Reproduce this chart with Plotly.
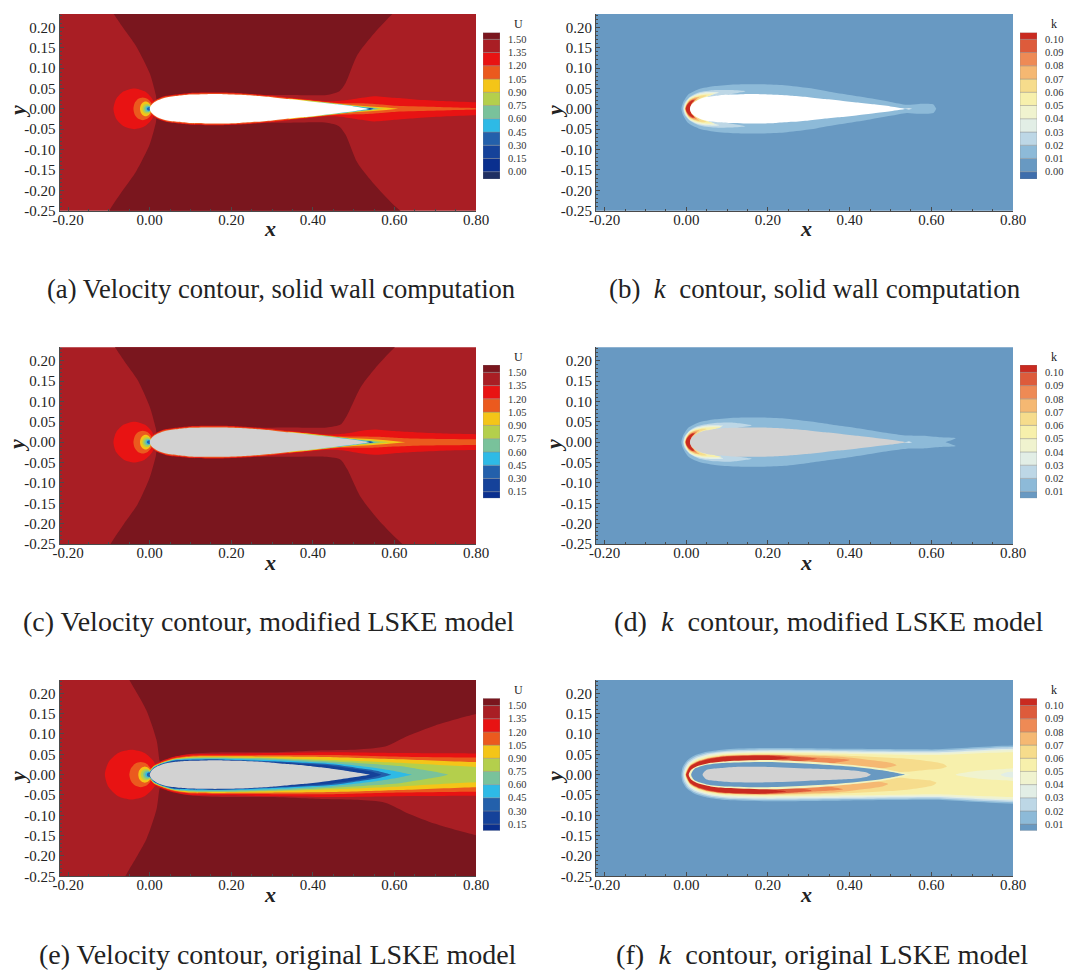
import plotly.graph_objects as go

W, H = 1068, 974
FONT = "Liberation Serif"

# ---------- axis labels ----------
X_TICKS = [-0.2, 0.0, 0.2, 0.4, 0.6, 0.8]
X_LABELS = ["-0.20", "0.00", "0.20", "0.40", "0.60", "0.80"]
Y_TICKS = [0.20, 0.15, 0.10, 0.05, 0.0, -0.05, -0.10, -0.15, -0.20, -0.25]
Y_LABELS = ["0.20", "0.15", "0.10", "0.05", "0.00", "-0.05", "-0.10", "-0.15", "-0.20", "-0.25"]
CAPTIONS = ["(a) Velocity contour, solid wall computation", "(b)  <i>k</i>  contour, solid wall computation",
            "(c) Velocity contour, modified LSKE model", "(d)  <i>k</i>  contour, modified LSKE model",
            "(e) Velocity contour, original LSKE model", "(f)  <i>k</i>  contour, original LSKE model"]

# ---------- level colours, lowest band first ----------
U_COLORS = ["#1F2F62", "#0A2F8E", "#15429A", "#2360AB", "#2EBAE6", "#79C29B", "#B4CF4C",
            "#F4C518", "#EB5A1E", "#E81313", "#A91E24", "#7A161E"]
K_COLORS = ["#3F6EAC", "#6899C2", "#8DBAD8", "#BDD7E6", "#E2EEE6", "#F0F3CF", "#F7F0AC",
            "#F6DC8C", "#F5B872", "#EE8A55", "#DD5B3B", "#C92A20"]
GREY = "#D2D2D2"

# ---------- colour bar levels ----------
U_LEVELS_A = [-0.083, 0.0, 0.15, 0.30, 0.45, 0.60, 0.75, 0.90, 1.05, 1.20, 1.35, 1.50, 1.577]
U_LEVELS_C = [0.075, 0.15, 0.30, 0.45, 0.60, 0.75, 0.90, 1.05, 1.20, 1.35, 1.50, 1.583]
K_LEVELS_A = [-0.0055, 0.0, 0.01, 0.02, 0.03, 0.04, 0.05, 0.06, 0.07, 0.08, 0.09, 0.10, 0.1051]
K_LEVELS_C = [0.005, 0.01, 0.02, 0.03, 0.04, 0.05, 0.06, 0.07, 0.08, 0.09, 0.10, 0.1055]
U_TICKS_A = [0.0, 0.15, 0.30, 0.45, 0.60, 0.75, 0.90, 1.05, 1.20, 1.35, 1.50]
U_TICKS_C = U_TICKS_A[1:]
K_TICKS_A = [0.0, 0.01, 0.02, 0.03, 0.04, 0.05, 0.06, 0.07, 0.08, 0.09, 0.10]
K_TICKS_C = K_TICKS_A[1:]

# ---------- body outline, upper side ----------
AF_X = [0, 0.003, 0.01, 0.02, 0.04, 0.07, 0.10, 0.14, 0.18, 0.22, 0.26, 0.30, 0.34, 0.38, 0.42, 0.46, 0.50, 0.54]
AF_Y = [0, 0.008, 0.015, 0.021, 0.028, 0.032, 0.035, 0.036, 0.036, 0.0345, 0.032, 0.0285, 0.024, 0.020, 0.0155, 0.011, 0.006, 0]
AF_E_Y = [0, 0.008, 0.015, 0.021, 0.028, 0.032, 0.034, 0.035, 0.035, 0.034, 0.032, 0.0295, 0.026, 0.0225, 0.018, 0.0125, 0.0065, 0]
AF_K_X = [0.009, 0.010, 0.014, 0.022, 0.035, 0.05, 0.08, 0.11, 0.14, 0.18, 0.22, 0.26, 0.30, 0.34, 0.38, 0.42, 0.46, 0.50, 0.54]
AF_K_Y = [0, 0.006, 0.012, 0.018, 0.025, 0.029, 0.033, 0.035, 0.036, 0.036, 0.0345, 0.032, 0.0285, 0.024, 0.020, 0.0155, 0.011, 0.006, 0]

# ---------- U = 1.50 contours, upper side ----------
DARK_A_X = [-0.12, -0.099, -0.066, -0.033, 0.0, 0.015, 0.018, 0.05, 0.10, 0.25, 0.34, 0.434, 0.464, 0.480, 0.509, 0.551, 0.595, 0.62, 0.66, -0.12]
DARK_A_Y = [0.30, 0.25, 0.2, 0.153, 0.087, 0.034, 0.02, 0.03, 0.03, 0.034, 0.034, 0.034, 0.0425, 0.063, 0.132, 0.186, 0.233, 0.255, 0.30, 0.30]
DARK_C_X = [-0.12, -0.096, -0.063, -0.03, 0.0, 0.015, 0.018, 0.05, 0.10, 0.25, 0.34, 0.434, 0.468, 0.484, 0.518, 0.56, 0.601, 0.625, 0.67, -0.12]
DARK_C_Y = [0.30, 0.25, 0.2, 0.153, 0.087, 0.034, 0.02, 0.03, 0.03, 0.035, 0.036, 0.036, 0.043, 0.066, 0.136, 0.19, 0.233, 0.255, 0.30, 0.30]
DARK_E_X = [-0.09, -0.06, -0.05, -0.008, 0.017, 0.024, 0.026, 0.083, 0.175, 0.30, 0.426, 0.51, 0.577, 0.635, 0.70, 0.80, 0.92, 0.92, -0.09]
DARK_E_Y = [0.30, 0.25, 0.2327, 0.158, 0.084, 0.035, 0.031, 0.049, 0.055, 0.055, 0.06, 0.062, 0.069, 0.096, 0.121, 0.149, 0.17, 0.30, 0.30]

# ---------- rings ahead of the nose, band colours high to low ----------
RING_COLORS = ["#E81313", "#EB5A1E", "#F4C518", "#B4CF4C", "#79C29B", "#2EBAE6", "#2360AB"]
RINGS_A_X = [[-0.089, -0.082, -0.0635, -0.038, -0.0125, 0.006, 0.013],
             [-0.040, -0.037, -0.029, -0.017, -0.005, 0.004, 0.008],
             [-0.024, -0.022, -0.017, -0.010, -0.003, 0.002, 0.004],
             [-0.018, -0.0165, -0.0125, -0.007, -0.0015, 0.0025, 0.004],
             [-0.0135, -0.0125, -0.009, -0.005, -0.001, 0.002, 0.0035],
             [-0.009, -0.008, -0.006, -0.003, 0.0, 0.002, 0.003],
             [-0.0068, -0.006, -0.0045, -0.002, 0.0, 0.001, 0.002]]
RINGS_A_Y = [[0, 0.025, 0.043, 0.05, 0.043, 0.025, 0],
             [0, 0.014, 0.024, 0.028, 0.024, 0.014, 0],
             [0, 0.009, 0.0155, 0.018, 0.0155, 0.009, 0],
             [0, 0.006, 0.0105, 0.012, 0.0105, 0.006, 0],
             [0, 0.004, 0.007, 0.008, 0.007, 0.004, 0],
             [0, 0.003, 0.005, 0.006, 0.005, 0.003, 0],
             [0, 0.002, 0.0035, 0.004, 0.0035, 0.002, 0]]
RINGS_E_X = [[-0.11, -0.101, -0.0775, -0.045, -0.0125, 0.011, 0.02],
             [-0.05, -0.046, -0.036, -0.022, -0.008, 0.002, 0.006],
             [-0.028, -0.026, -0.02, -0.012, -0.004, 0.002, 0.004],
             [-0.022, -0.02, -0.0155, -0.009, -0.0025, 0.002, 0.004],
             [-0.016, -0.0147, -0.011, -0.006, -0.001, 0.0027, 0.004],
             [-0.011, -0.010, -0.0075, -0.004, -0.0005, 0.002, 0.003],
             [-0.007, -0.0063, -0.0045, -0.002, 0.0005, 0.0023, 0.003]]
RINGS_E_Y = [[0, 0.0305, 0.053, 0.061, 0.053, 0.0305, 0],
             [0, 0.0155, 0.027, 0.031, 0.027, 0.0155, 0],
             [0, 0.01, 0.017, 0.02, 0.017, 0.01, 0],
             [0, 0.007, 0.012, 0.014, 0.012, 0.007, 0],
             [0, 0.005, 0.0087, 0.01, 0.0087, 0.005, 0],
             [0, 0.0035, 0.006, 0.007, 0.006, 0.0035, 0],
             [0, 0.0025, 0.0043, 0.005, 0.0043, 0.0025, 0]]

# ---------- thin velocity layers, panels a and c: offset from body, then wake ----------
LAYER_COLORS = ["#E81313", "#EB5A1E", "#F4C518", "#B4CF4C", "#79C29B", "#2EBAE6"]
LAYER_OFFSETS = [0.004, 0.0022, 0.0015, 0.001, 0.0007, 0.0005]
LAYER_STARTS = [0.0, 0.0, 0.34, 0.38, 0.42, 0.46]
LAYER_CUTS = [0.40, 0.40, 0.40, 0.42, 0.44, 0.46]
WAKE_A_X = [[0.44, 0.48, 0.52, 0.55, 0.60, 0.65, 0.72, 0.80, 0.90, 0.90],
            [0.46, 0.52, 0.56, 0.605, 0.69, 0.75, 0.80, 0.82],
            [0.46, 0.50, 0.54, 0.58, 0.609],
            [0.50, 0.54, 0.575],
            [0.52, 0.54, 0.562],
            [0.54, 0.553]]
WAKE_A_Y = [[0.0185, 0.021, 0.027, 0.031, 0.027, 0.023, 0.019, 0.016, 0.015, 0],
            [0.0145, 0.0135, 0.011, 0.0073, 0.0049, 0.003, 0.0015, 0],
            [0.0125, 0.0085, 0.0058, 0.003, 0],
            [0.0075, 0.004, 0],
            [0.0045, 0.003, 0],
            [0.0018, 0]]
WAKE_C_X = [[0.44, 0.48, 0.52, 0.55, 0.60, 0.65, 0.72, 0.80, 0.90, 0.90],
            [0.46, 0.52, 0.56, 0.60, 0.65, 0.72, 0.80, 0.90, 0.90],
            [0.46, 0.50, 0.54, 0.58, 0.627],
            [0.50, 0.54, 0.59],
            [0.52, 0.54, 0.565],
            [0.54, 0.555]]
WAKE_C_Y = [[0.0185, 0.021, 0.028, 0.031, 0.027, 0.024, 0.021, 0.0195, 0.019, 0],
            [0.0145, 0.014, 0.013, 0.011, 0.009, 0.0078, 0.007, 0.006, 0],
            [0.0125, 0.0095, 0.0075, 0.0045, 0],
            [0.0075, 0.0045, 0],
            [0.0045, 0.003, 0],
            [0.0018, 0]]
TIP_X = [0.528, 0.54, 0.549]
TIP_Y = [0, 0.002, 0]

# ---------- velocity layers, panel e ----------
E_FRONT_X = [0.0, 0.01, 0.03, 0.06, 0.10, 0.17, 0.30, 0.45]
E_LAYER_COLORS = ["#E81313", "#EB5A1E", "#F4C518", "#B4CF4C", "#79C29B", "#2EBAE6", "#2360AB", "#15429A"]
E_LAYER_Y = [[0.012, 0.024, 0.034, 0.044, 0.050, 0.051, 0.053, 0.055, 0.053, 0.052, 0.052, 0],
             [0.010, 0.022, 0.031, 0.041, 0.0465, 0.0475, 0.048, 0.048, 0.044, 0.042, 0.042, 0],
             [0.009, 0.021, 0.030, 0.039, 0.044, 0.045, 0.0445, 0.043, 0.038, 0.031, 0.030, 0],
             [0.008, 0.020, 0.029, 0.038, 0.042, 0.043, 0.041, 0.036, 0.029, 0.019, 0.017, 0],
             [0.007, 0.019, 0.028, 0.037, 0.041, 0.0415, 0.039, 0.032, 0.021, 0.0145, 0.007, 0],
             [0.006, 0.018, 0.0275, 0.036, 0.0385, 0.039, 0.036, 0.028, 0.017, 0.0096, 0],
             [0.005, 0.017, 0.027, 0.035, 0.0365, 0.0375, 0.033, 0.025, 0.015, 0.0096, 0],
             [0.004, 0.016, 0.0255, 0.0335, 0.0355, 0.0365, 0.031, 0.0215, 0.0085, 0]]
E_LAYER_TAIL_X = [[0.613, 0.80, 0.92, 0.92],
                  [0.613, 0.80, 0.92, 0.92],
                  [0.613, 0.80, 0.92, 0.92],
                  [0.613, 0.80, 0.92, 0.92],
                  [0.613, 0.654, 0.70, 0.732],
                  [0.55, 0.597, 0.642],
                  [0.52, 0.556, 0.592],
                  [0.54, 0.568]]

# ---------- k contours, panel b, colours high to low ----------
KB_LOBE_COLORS = ["#8DBAD8", "#BDD7E6", "#E2EEE6", "#F0F3CF", "#F7F0AC", "#F6DC8C", "#F5B872", "#EE8A55", "#DD5B3B", "#C92A20"]
KB_X = [[-0.012, -0.008, 0.005, 0.03, 0.07, 0.12, 0.18, 0.24, 0.30, 0.35, 0.40, 0.45, 0.50, 0.54, 0.57, 0.605, 0.612],
        [-0.008, -0.004, 0.01, 0.03, 0.07, 0.11, 0.145, 0.10, 0.06],
        [-0.006, -0.003, 0.008, 0.025, 0.05, 0.08, 0.05],
        [-0.005, -0.002, 0.008, 0.025, 0.05, 0.07, 0.05],
        [-0.004, -0.001, 0.008, 0.025, 0.05, 0.065, 0.04],
        [-0.003, 0.0, 0.008, 0.02, 0.04, 0.05, 0.03],
        [-0.0025, 0.0, 0.007, 0.02, 0.032, 0.02],
        [-0.002, 0.0005, 0.007, 0.018, 0.026, 0.015],
        [-0.0015, 0.001, 0.007, 0.016, 0.022, 0.012],
        [-0.001, 0.0015, 0.008, 0.016, 0.019, 0.012]]
KB_Y = [[0, 0.015, 0.035, 0.048, 0.056, 0.060, 0.0605, 0.058, 0.051, 0.042, 0.034, 0.026, 0.017, 0.010, 0.012, 0.0105, 0],
        [0, 0.015, 0.030, 0.040, 0.046, 0.046, 0.043, 0.034, 0.02],
        [0, 0.012, 0.027, 0.036, 0.041, 0.040, 0.028],
        [0, 0.012, 0.026, 0.034, 0.038, 0.038, 0.027],
        [0, 0.011, 0.024, 0.032, 0.036, 0.035, 0.025],
        [0, 0.01, 0.022, 0.028, 0.033, 0.032, 0.022],
        [0, 0.009, 0.02, 0.027, 0.029, 0.018],
        [0, 0.009, 0.018, 0.024, 0.025, 0.015],
        [0, 0.008, 0.017, 0.022, 0.022, 0.013],
        [0, 0.008, 0.016, 0.021, 0.02, 0.011]]
# panel d differs in the outer lobes and the tail
KD_OUTER_X = [[-0.012, -0.008, 0.005, 0.03, 0.07, 0.12, 0.18, 0.24, 0.30, 0.35, 0.40, 0.45, 0.50, 0.54, 0.58, 0.62, 0.66, 0.635],
              [-0.008, -0.004, 0.01, 0.03, 0.07, 0.11, 0.16, 0.13, 0.08],
              [-0.006, -0.003, 0.008, 0.025, 0.05, 0.09, 0.06],
              [-0.005, -0.002, 0.008, 0.025, 0.05, 0.087, 0.05],
              [-0.004, -0.001, 0.008, 0.025, 0.05, 0.085, 0.05]]
KD_OUTER_Y = [[0, 0.015, 0.035, 0.048, 0.056, 0.060, 0.0605, 0.058, 0.051, 0.044, 0.037, 0.029, 0.021, 0.016, 0.0155, 0.012, 0.0095, 0],
              [0, 0.015, 0.030, 0.040, 0.047, 0.048, 0.041, 0.036, 0.02],
              [0, 0.012, 0.027, 0.036, 0.041, 0.040, 0.028],
              [0, 0.012, 0.026, 0.034, 0.038, 0.038, 0.027],
              [0, 0.011, 0.024, 0.032, 0.036, 0.036, 0.025]]
K_SLIVER_X = [0.535, 0.545, 0.553]
K_SLIVER_Y = [0, 0.0015, 0]

# ---------- k contours, panel f ----------
KF_BAND_COLORS = ["#8DBAD8", "#BDD7E6", "#E2EEE6", "#F0F3CF", "#F7F0AC"]
KF_BAND_X = [[-0.012, -0.009, 0.002, 0.02, 0.05, 0.10, 0.20, 0.40, 0.60, 0.90, 0.90],
             [-0.009, -0.006, 0.004, 0.022, 0.052, 0.10, 0.20, 0.40, 0.60, 0.90, 0.90],
             [-0.006, -0.003, 0.006, 0.024, 0.054, 0.10, 0.20, 0.40, 0.60, 0.90, 0.90],
             [-0.004, -0.001, 0.008, 0.026, 0.056, 0.10, 0.20, 0.40, 0.60, 0.90, 0.90],
             [-0.003, 0.0, 0.009, 0.028, 0.058, 0.10, 0.20, 0.40, 0.60, 0.90, 0.90]]
KF_BAND_Y = [[0, 0.018, 0.035, 0.047, 0.056, 0.0625, 0.0655, 0.0635, 0.062, 0.062, 0],
             [0, 0.016, 0.032, 0.044, 0.053, 0.059, 0.062, 0.060, 0.0585, 0.0585, 0],
             [0, 0.014, 0.029, 0.041, 0.05, 0.056, 0.059, 0.057, 0.055, 0.055, 0],
             [0, 0.012, 0.027, 0.039, 0.048, 0.053, 0.056, 0.054, 0.052, 0.052, 0],
             [0, 0.011, 0.025, 0.037, 0.045, 0.0505, 0.053, 0.051, 0.048, 0.0457, 0]]
KF_LENS_X = [0.66, 0.72, 0.78, 0.90, 0.90]
KF_LENS_Y = [0, 0.010, 0.014, 0.018, 0]
KF_SPOT_X = [0.77, 0.785, 0.80, 0.815]
KF_SPOT_Y = [0, 0.006, 0.007, 0]
KF_LOBE_COLORS = ["#F6DC8C", "#F5B872", "#EE8A55", "#DD5B3B", "#C92A20"]
KF_LOBE_X = [[-0.002, 0.001, 0.01, 0.03, 0.06, 0.10, 0.20, 0.377, 0.54, 0.60, 0.63, 0.638, 0.625, 0.58, 0.54, 0.30],
             [-0.0015, 0.0015, 0.01, 0.03, 0.06, 0.10, 0.20, 0.377, 0.45, 0.50, 0.515, 0.49, 0.46, 0.30],
             [-0.001, 0.002, 0.01, 0.03, 0.06, 0.10, 0.20, 0.32, 0.40, 0.33, 0.2],
             [-0.0008, 0.0025, 0.01, 0.03, 0.06, 0.10, 0.20, 0.27, 0.32, 0.26, 0.2],
             [-0.0005, 0.003, 0.01, 0.03, 0.06, 0.10, 0.20, 0.255, 0.20, 0.15]]
KF_LOBE_Y = [[0, 0.01, 0.024, 0.035, 0.043, 0.048, 0.05, 0.047, 0.039, 0.032, 0.026, 0.02, 0.015, 0.011, 0.007, 0.006],
             [0, 0.0095, 0.023, 0.034, 0.042, 0.047, 0.049, 0.044, 0.036, 0.029, 0.023, 0.017, 0.014, 0.006],
             [0, 0.009, 0.022, 0.033, 0.041, 0.046, 0.048, 0.042, 0.036, 0.024, 0.01],
             [0, 0.0085, 0.021, 0.032, 0.04, 0.045, 0.0475, 0.044, 0.039, 0.03, 0.01],
             [0, 0.008, 0.02, 0.031, 0.039, 0.0445, 0.0465, 0.041, 0.034, 0.01]]
KF_PALE_X = [0.006, 0.008, 0.012, 0.025, 0.06, 0.10, 0.20, 0.30, 0.40, 0.48, 0.55]
KF_PALE_Y = [0, 0.006, 0.012, 0.02, 0.029, 0.033, 0.036, 0.032, 0.024, 0.015, 0]
KF_BLUE_X = [0.012, 0.014, 0.02, 0.05, 0.10, 0.20, 0.30, 0.40, 0.48, 0.535]
KF_BLUE_Y = [0, 0.006, 0.014, 0.024, 0.029, 0.031, 0.027, 0.020, 0.0105, 0]
KF_GREY_X = [0.04, 0.05, 0.08, 0.12, 0.20, 0.30, 0.40, 0.44, 0.452]
KF_GREY_Y = [0, 0.012, 0.016, 0.019, 0.019, 0.015, 0.011, 0.006, 0]

BASE_X = [-0.4, 1.1, 1.1, -0.4]
BASE_Y = [-0.4, -0.4, 0.4, 0.4]

# ---------- layout in pixels ----------
PLOT_X = [(59.6, 476), (596, 1013)]
PLOT_Y = [(14, 210.7), (347.3, 544), (680, 876.3)]
BAR_X = [(483, 500), (1020, 1037)]
BAR_Y = [(32.5, 179), (365, 498.3), (698.3, 830.7)]
X_RANGE = [-0.221, 0.80]
Y_RANGE = [-0.25, 0.2327]

fig = go.Figure()
layout = dict(width=W, height=H, margin=dict(l=0, r=0, t=0, b=0, autoexpand=False), showlegend=False,
              paper_bgcolor="white", plot_bgcolor="white", barmode="overlay",
              font=dict(family=FONT, color="#222"), annotations=[], hovermode=False)


def add_poly(i, xs, ys, color, shape="spline"):
    fig.add_trace(go.Scatter(x=xs, y=ys, mode="lines", fill="toself", fillcolor=color,
                             line=dict(width=0, color=color, shape=shape, smoothing=0.7, simplify=False),
                             hoverinfo="skip", xaxis=f"x{i}", yaxis=f"y{i}"))


def add_sym(i, xs, ys, color, lower_scale=1.0, shape="spline"):
    """Upper contour plus its reflection below the axis."""
    add_poly(i, list(xs) + [x * lower_scale for x in reversed(xs)],
             list(ys) + [-y for y in reversed(ys)], color, shape)


def add_dark(i, xs, ys, color):
    add_poly(i, xs, ys, color)
    add_poly(i, xs, [-y for y in ys], color)


def body_layer(offset, start, cut, wx, wy):
    body = [(x, y + offset) for x, y in zip(AF_X[1:], AF_Y[1:]) if start <= x <= cut]
    head = [(-offset, 0.0)] if start == 0 else []
    pts = head + body
    return [p[0] for p in pts] + wx, [p[1] for p in pts] + wy


def velocity_thin(i, dark_x, dark_y, wake_x, wake_y, body_color):
    add_poly(i, BASE_X, BASE_Y, U_COLORS[10], "linear")
    add_dark(i, dark_x, dark_y, U_COLORS[11])
    add_sym(i, RINGS_A_X[0], RINGS_A_Y[0], RING_COLORS[0])
    for n in range(6):
        xs, ys = body_layer(LAYER_OFFSETS[n], LAYER_STARTS[n], LAYER_CUTS[n], wake_x[n], wake_y[n])
        if n > 0:
            add_sym(i, RINGS_A_X[n], RINGS_A_Y[n], RING_COLORS[n])
        add_sym(i, xs, ys, LAYER_COLORS[n], shape="spline" if n < 2 else "linear")
    add_sym(i, RINGS_A_X[6], RINGS_A_Y[6], RING_COLORS[6])
    add_sym(i, TIP_X, TIP_Y, U_COLORS[2], shape="linear")
    add_sym(i, AF_X, AF_Y, body_color)


# panel a (1) and panel c (3)
velocity_thin(1, DARK_A_X, DARK_A_Y, WAKE_A_X, WAKE_A_Y, "#FFFFFF")
velocity_thin(3, DARK_C_X, DARK_C_Y, WAKE_C_X, WAKE_C_Y, GREY)

# panel e (5)
add_poly(5, BASE_X, BASE_Y, U_COLORS[10], "linear")
add_dark(5, DARK_E_X, DARK_E_Y, U_COLORS[11])
add_sym(5, RINGS_E_X[0], RINGS_E_Y[0], RING_COLORS[0])
for n, color in enumerate(E_LAYER_COLORS):
    if 0 < n < 7:
        add_sym(5, RINGS_E_X[n], RINGS_E_Y[n], RING_COLORS[n])
    add_sym(5, E_FRONT_X + E_LAYER_TAIL_X[n], E_LAYER_Y[n], color)
add_sym(5, AF_X, AF_E_Y, GREY)


def k_thin(i, xs_list, ys_list, colors, body_color):
    add_poly(i, BASE_X, BASE_Y, K_COLORS[1], "linear")
    for xs, ys, c in zip(xs_list, ys_list, colors):
        add_sym(i, xs, ys, c)
    add_sym(i, AF_K_X, AF_K_Y, body_color)
    add_sym(i, K_SLIVER_X, K_SLIVER_Y, "#E8F0F4", shape="linear")


# panel b (2) and panel d (4)
k_thin(2, KB_X, KB_Y, KB_LOBE_COLORS, "#FFFFFF")
k_thin(4, KD_OUTER_X + KB_X[5:], KD_OUTER_Y + KB_Y[5:], KB_LOBE_COLORS, GREY)

# panel f (6)
add_poly(6, BASE_X, BASE_Y, K_COLORS[1], "linear")
for xs, ys, c in zip(KF_BAND_X, KF_BAND_Y, KF_BAND_COLORS):
    add_sym(6, xs, ys, c)
add_sym(6, KF_LENS_X, KF_LENS_Y, "#F0F3CF")
add_sym(6, KF_SPOT_X, KF_SPOT_Y, "#E2EEE6")
for xs, ys, c in zip(KF_LOBE_X, KF_LOBE_Y, KF_LOBE_COLORS):
    add_sym(6, xs, ys, c, lower_scale=0.96)
add_sym(6, KF_PALE_X, KF_PALE_Y, "#F2F3C0")
add_sym(6, KF_BLUE_X, KF_BLUE_Y, K_COLORS[1])
add_sym(6, KF_GREY_X, KF_GREY_Y, GREY)


def px_x(a, b):
    return [a / W, b / W]


def px_y(top, bottom):
    return [1 - bottom / H, 1 - top / H]


def note(x, y, text, size, xanchor="center", **kw):
    layout["annotations"].append(dict(x=x / W, y=1 - y / H, xref="paper", yref="paper", text=text,
                                      xanchor=xanchor, yanchor="middle", showarrow=False,
                                      font=dict(family=FONT, size=size, color="#222"), **kw))


AX_COLOR = "#4A4A4A"
BAR_SPECS = [(U_LEVELS_A, U_COLORS, U_TICKS_A, "U"), (K_LEVELS_A, K_COLORS, K_TICKS_A, "k"),
             (U_LEVELS_C, U_COLORS[1:], U_TICKS_C, "U"), (K_LEVELS_C, K_COLORS[1:], K_TICKS_C, "k"),
             (U_LEVELS_C, U_COLORS[1:], U_TICKS_C, "U"), (K_LEVELS_C, K_COLORS[1:], K_TICKS_C, "k")]
CAPTION_X = [45, 607, 21, 612, 37, 614]
CAPTION_Y = [289, 289, 621, 621, 954, 954]
CAPTION_SIZE = [26.6, 26.9, 28, 28.2, 28, 28.3]
XLABEL_Y = [228, 228, 562, 562, 894, 894]
YLABEL_Y = [112, 112, 446, 446, 778, 778]
YLABEL_X = [17, 554]
XLABEL_X = [270, 806]
BAR_TITLE_X = [518, 1054]
BAR_TITLE_Y = [24, 24, 357, 357, 690, 690]

for p in range(6):
    col = p % 2
    row = p // 2
    i = p + 1
    b = p + 7
    layout[f"xaxis{i}"] = dict(domain=px_x(*PLOT_X[col]), range=X_RANGE, anchor=f"y{i}", showgrid=False,
                               automargin=False, zeroline=False, showline=True, linecolor=AX_COLOR, linewidth=1,
                               tickmode="array", tickvals=X_TICKS, ticktext=X_LABELS, ticks="inside",
                               ticklen=4, tickcolor=AX_COLOR, tickfont=dict(family=FONT, size=15, color="#222"),
                               ticklabelstandoff=-5,
                               minor=dict(ticks="inside", ticklen=2, tickcolor=AX_COLOR, tickmode="linear", tick0=0, dtick=0.05))
    layout[f"yaxis{i}"] = dict(domain=px_y(*PLOT_Y[row]), range=Y_RANGE, anchor=f"x{i}", showgrid=False,
                               automargin=False, zeroline=False, showline=True, linecolor=AX_COLOR, linewidth=1,
                               tickmode="array", tickvals=Y_TICKS, ticktext=Y_LABELS, ticks="inside",
                               ticklen=4, tickcolor=AX_COLOR, tickfont=dict(family=FONT, size=15, color="#222"),
                               minor=dict(ticks="inside", ticklen=2, tickcolor=AX_COLOR, tickmode="linear", tick0=0, dtick=0.01))
    levels, colors, ticks, name = BAR_SPECS[p]
    fig.add_trace(go.Bar(x=[0] * len(colors), y=[levels[k + 1] - levels[k] for k in range(len(colors))],
                         base=levels[:-1], width=1, xaxis=f"x{b}", yaxis=f"y{b}", hoverinfo="skip",
                         marker=dict(color=colors, line=dict(color="#8A8A8A", width=0.4))))
    layout[f"xaxis{b}"] = dict(domain=px_x(*BAR_X[col]), range=[-0.5, 0.5], anchor=f"y{b}", visible=False, automargin=False)
    layout[f"yaxis{b}"] = dict(domain=px_y(*BAR_Y[row]), range=[levels[0], levels[-1]], anchor=f"x{b}", side="right",
                               automargin=False, showgrid=False, zeroline=False, showline=False, tickmode="array", tickvals=ticks,
                               ticktext=[f"{t:.2f}" for t in ticks], ticks="outside", ticklen=5,
                               tickcolor="rgba(0,0,0,0)", tickfont=dict(family=FONT, size=10.5, color="#333"))
    note(BAR_TITLE_X[col], BAR_TITLE_Y[p], name, 12)
    note(XLABEL_X[col], XLABEL_Y[p], "<b><i>x</i></b>", 22)
    note(YLABEL_X[col], YLABEL_Y[p], "<b><i>y</i></b>", 22, textangle=-90)
    note(CAPTION_X[p], CAPTION_Y[p], CAPTIONS[p], CAPTION_SIZE[p], xanchor="left")

fig.update_layout(**layout)
fig.write_html("out.html", config=dict(displayModeBar=False),
               post_script="document.body.style.margin='0';document.documentElement.style.overflow='hidden';")
